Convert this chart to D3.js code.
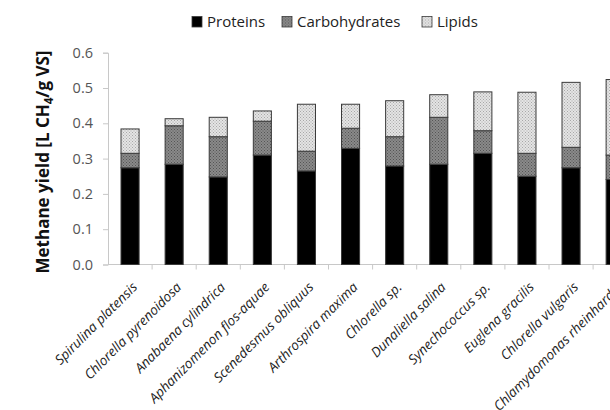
<!DOCTYPE html>
<html>
<head>
<meta charset="utf-8">
<script src="https://cdn.jsdelivr.net/npm/d3@7"></script>
<style>
  html, body { margin: 0; padding: 0; background: #fff; }
  svg { display: block; }
  text { font-family: "Open Sans", Lato, sans-serif; }
</style>
</head>
<body>
<div id="chart"></div>
<script>
// Methane yield of microalgae species, split by contribution of each macromolecule
const species = [
  "Spirulina platensis", "Chlorella pyrenoidosa", "Anabaena cylindrica",
  "Aphanizomenon flos-aquae", "Scenedesmus obliquus", "Arthrospira maxima",
  "Chlorella sp.", "Dunaliella salina", "Synechococcus sp.",
  "Euglena gracilis", "Chlorella vulgaris", "Chlamydomonas rheinhardtii"
];
const proteins      = [0.274, 0.284, 0.248, 0.310, 0.265, 0.329, 0.279, 0.284, 0.315, 0.250, 0.274, 0.241];
const carbohydrates = [0.041, 0.109, 0.114, 0.096, 0.056, 0.057, 0.083, 0.133, 0.064, 0.065, 0.058, 0.069];
const lipids        = [0.069, 0.020, 0.055, 0.029, 0.133, 0.068, 0.102, 0.064, 0.110, 0.173, 0.184, 0.214];
const seriesNames = ["Proteins", "Carbohydrates", "Lipids"];
const yTicks = [0, 0.1, 0.2, 0.3, 0.4, 0.5, 0.6];

const W = 610, H = 410;
const svg = d3.select("#chart").append("svg").attr("width", W).attr("height", H);

// fill patterns for the stacked segments
const defs = svg.append("defs");
function dotPattern(id, bg, dot) {
  const p = defs.append("pattern").attr("id", id)
    .attr("patternUnits", "userSpaceOnUse").attr("width", 3).attr("height", 3);
  p.append("rect").attr("width", 3).attr("height", 3).attr("fill", bg);
  p.append("rect").attr("x", 0).attr("y", 0).attr("width", 1).attr("height", 1).attr("fill", dot);
  p.append("rect").attr("x", 1.5).attr("y", 1.5).attr("width", 1).attr("height", 1).attr("fill", dot);
}
dotPattern("pat-carb", "#8a8a8a", "#555");
dotPattern("pat-lip", "#e4e4e4", "#a8a8a8");
const fills = { Proteins: "#000", Carbohydrates: "url(#pat-carb)", Lipids: "url(#pat-lip)" };

const x = d3.scaleBand().domain(species).range([108, 108 + 12 * 44.1])
  .paddingInner(0.59).paddingOuter(0.295);
const y = d3.scaleLinear().domain([0, 0.6]).range([264.5, 52.7]);

// axes
const yAxis = svg.append("g").attr("transform", "translate(108,0)")
  .call(d3.axisLeft(y).tickValues(yTicks).tickFormat(d3.format(".1f")).tickSizeOuter(0).tickSize(5).tickPadding(10));
yAxis.select(".domain").attr("stroke", "#c8c8c8");
yAxis.selectAll(".tick line").attr("stroke", "#c8c8c8");
yAxis.selectAll(".tick text").attr("fill", "#555").attr("font-size", 14.5).attr("font-family", "'Open Sans', sans-serif");

const xAxisG = svg.append("g").attr("transform", "translate(0,264.5)");
xAxisG.append("line").attr("x1", 108).attr("x2", W).attr("stroke", "#c8c8c8");
xAxisG.selectAll(".sep").data(d3.range(1, 13)).join("line")
  .attr("x1", i => 108 + x.step() * i).attr("x2", i => 108 + x.step() * i)
  .attr("y1", 0).attr("y2", 5).attr("stroke", "#c8c8c8");

// stacked bars
const rows = species.map((s, i) => ({ s, Proteins: proteins[i], Carbohydrates: carbohydrates[i], Lipids: lipids[i] }));
const stack = d3.stack().keys(seriesNames)(rows);
stack.forEach(layer => {
  svg.append("g").selectAll("rect").data(layer).join("rect")
    .attr("x", d => x(d.data.s))
    .attr("width", x.bandwidth())
    .attr("y", d => y(d[1]))
    .attr("height", d => y(d[0]) - y(d[1]))
    .attr("fill", fills[layer.key])
    .attr("stroke", "#3a3a3a").attr("stroke-width", 1);
});

// category labels
svg.append("g").selectAll("text").data(species).join("text")
  .attr("transform", d => `translate(${x(d) + x.bandwidth() / 2 + 8},${288}) rotate(-45)`)
  .attr("text-anchor", "end")
  .attr("font-style", "italic")
  .attr("font-size", 13.5)
  .attr("fill", "#222")
  .text(d => d);

// y-axis title
const yt = svg.append("text")
  .attr("transform", "translate(49,162) rotate(-90)")
  .attr("text-anchor", "middle")
  .attr("font-weight", "bold").attr("font-size", 17).attr("fill", "#111");
yt.append("tspan").text("Methane yield [L CH");
yt.append("tspan").attr("font-size", 11.5).attr("dy", 4).text("4");
yt.append("tspan").attr("dy", -4).text("/g VS]");

// legend
const legendX = [192, 282, 422];
const lg = svg.append("g").selectAll("g").data(seriesNames).join("g")
  .attr("transform", (d, i) => `translate(${legendX[i]},16.5)`);
lg.append("rect").attr("width", 10).attr("height", 10.5)
  .attr("fill", d => fills[d]).attr("stroke", "#3a3a3a").attr("stroke-width", 0.8);
lg.append("text").attr("x", 15).attr("y", 10.5).attr("font-size", 15).attr("fill", "#222")
  .text(d => d);
</script>
</body>
</html>
